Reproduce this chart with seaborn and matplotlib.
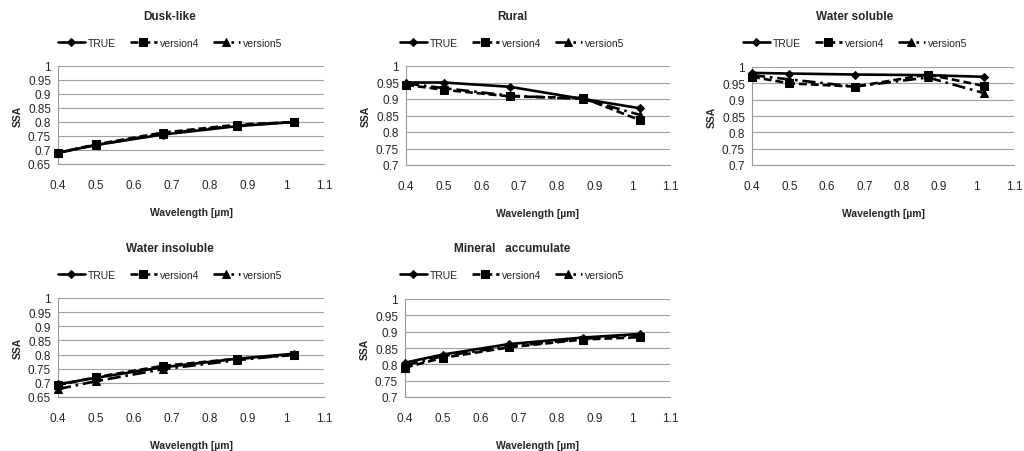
import seaborn as sns
import matplotlib.pyplot as plt

sns.set_style("white")
plt.rcParams['font.family'] = ['Liberation Sans', 'DejaVu Sans']

wavelength = [0.4, 0.5, 0.675, 0.87, 1.02]
series_names = ['TRUE', 'version4', 'version5']

dusk_true = [0.690, 0.718, 0.755, 0.785, 0.800]
dusk_v4 = [0.690, 0.720, 0.762, 0.790, 0.800]
dusk_v5 = [0.690, 0.718, 0.758, 0.787, 0.800]

rural_true = [0.950, 0.950, 0.937, 0.900, 0.872]
rural_v4 = [0.943, 0.928, 0.908, 0.903, 0.836]
rural_v5 = [0.947, 0.933, 0.910, 0.900, 0.852]

wsol_true = [0.982, 0.980, 0.977, 0.975, 0.970]
wsol_v4 = [0.970, 0.950, 0.940, 0.977, 0.942]
wsol_v5 = [0.975, 0.962, 0.940, 0.968, 0.920]

winsol_true = [0.695, 0.718, 0.755, 0.785, 0.803]
winsol_v4 = [0.692, 0.720, 0.760, 0.785, 0.798]
winsol_v5 = [0.678, 0.706, 0.748, 0.780, 0.800]

mineral_true = [0.805, 0.830, 0.862, 0.882, 0.893]
mineral_v4 = [0.790, 0.820, 0.852, 0.876, 0.883]
mineral_v5 = [0.797, 0.825, 0.855, 0.878, 0.890]

titles = ['Dusk-like', 'Rural', 'Water soluble', 'Water insoluble', 'Mineral   accumulate']
panel_data = [
    (dusk_true, dusk_v4, dusk_v5),
    (rural_true, rural_v4, rural_v5),
    (wsol_true, wsol_v4, wsol_v5),
    (winsol_true, winsol_v4, winsol_v5),
    (mineral_true, mineral_v4, mineral_v5),
]
y_lows = [0.65, 0.7, 0.7, 0.65, 0.7]

# panel geometry in pixels: axes left, right, top, bottom, panel centre x, title y
W, H = 1024, 452
panels = [
    (58, 324, 67, 165, 170, 17),
    (406, 670, 67, 166, 512, 17),
    (752, 1014, 68, 166, 855, 17),
    (58, 324, 299, 398, 170, 249),
    (405, 670, 300, 398, 512, 249),
]

styles = [
    dict(marker='D', markersize=4, dashes=None),
    dict(marker='s', markersize=5.5, dashes=(3.0, 1.5)),
    dict(marker='^', markersize=6, dashes=(5, 1.8, 1, 1.8)),
]

fig = plt.figure(figsize=(W / 100, H / 100), dpi=100)

for (l, r, t, b, cx, ty), title, data, ylow in zip(panels, titles, panel_data, y_lows):
    ax = fig.add_axes([l / W, 1 - b / H, (r - l) / W, (b - t) / H])
    for name, vals, st in zip(series_names, data, styles):
        sns.lineplot(x=wavelength, y=vals, ax=ax, color='black', lw=1.9,
                     marker=st['marker'], markersize=st['markersize'],
                     markeredgecolor='black', label=name, clip_on=False, zorder=3)
        ln = ax.get_lines()[-1]
        if st['dashes'] is not None:
            ln.set_dashes(st['dashes'])
    ax.set_xlim(0.4, 1.1)
    ax.set_ylim(ylow, 1.0)
    ax.set_xticks([0.4, 0.5, 0.6, 0.7, 0.8, 0.9, 1.0, 1.1])
    ax.set_xticklabels(['0.4', '0.5', '0.6', '0.7', '0.8', '0.9', '1', '1.1'])
    yt = [round(ylow + 0.05 * i, 2) for i in range(int(round((1.0 - ylow) / 0.05)) + 1)]
    ax.set_yticks(yt)
    ax.set_yticklabels([f'{v:g}' for v in yt])
    ax.tick_params(axis='both', labelsize=8.5, colors='#262626', length=3, width=0.8,
                   color='#999999', pad=2)
    ax.tick_params(axis='x', pad=8)
    ax.yaxis.grid(True, color='#a0a0a0', lw=0.8)
    ax.xaxis.grid(False)
    for s in ['top', 'right']:
        ax.spines[s].set_visible(False)
    for s in ['left', 'bottom']:
        ax.spines[s].set_color('#999999')
        ax.spines[s].set_linewidth(0.8)
    ax.set_xlabel('Wavelength [µm]', fontsize=7.5, fontweight='bold', labelpad=11)
    ax.set_ylabel('SSA', fontsize=7.5, fontweight='bold', labelpad=4)
    fig.text(cx / W, 1 - ty / H, title, ha='center', va='center',
             fontsize=8.5, fontweight='bold')
    handles, labels = ax.get_legend_handles_labels()
    ax.legend(handles, labels, loc='center', ncol=3, frameon=False, fontsize=7.5,
              bbox_to_anchor=(cx / W, 1 - (ty + 27) / H), bbox_transform=fig.transFigure,
              handlelength=2.6, handletextpad=0.3, columnspacing=1.3)

fig.savefig('out.png', dpi=100)
